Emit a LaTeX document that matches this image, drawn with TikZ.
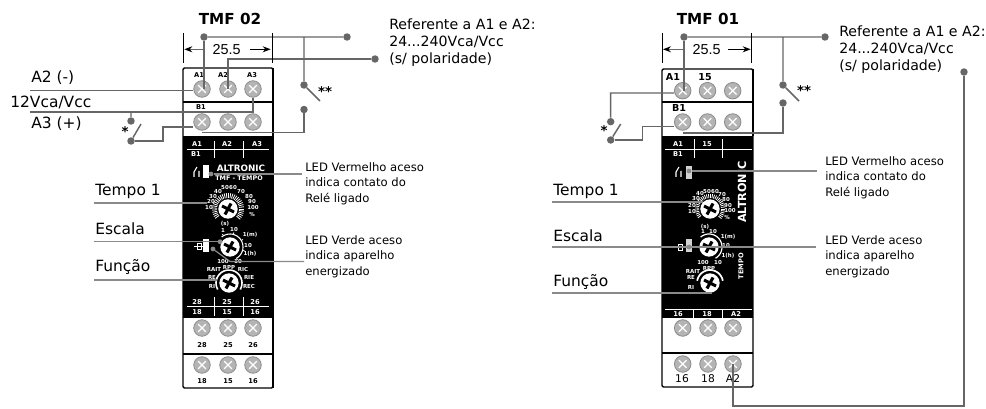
\documentclass[tikz,border=0pt]{standalone}
\usepackage{fontspec}
\setmainfont{DejaVu Sans}
\newfontfamily\arialfont{Liberation Sans}
\usetikzlibrary{arrows.meta}
\definecolor{wirec}{HTML}{666666}
\definecolor{leadc}{HTML}{8A8A8A}
\definecolor{screwc}{HTML}{B4B4B4}
\tikzset{
 wire/.style={draw=wirec,line width=1.1pt},
 leadline/.style={draw=leadc,line width=.9pt},
 wdot/.style={circle,fill=wirec,inner sep=0pt,minimum size=5.6pt},
 ldot/.style={circle,fill=leadc,inner sep=0pt,minimum size=3.6pt},
 screwn/.style={circle,fill=screwc,draw=leadc,line width=.6pt,inner sep=0pt,minimum size=12.4pt},
 dialn/.style={circle,fill=white,inner sep=0pt,minimum size=14.5pt},
 shell/.style={draw=black,line width=1.1pt,rounded corners=1pt},
 ticktxt/.style={text=white,font=\fontsize{5}{5}\selectfont\bfseries,inner sep=0pt},
 dialtxt/.style={text=white,font=\fontsize{4.1}{5}\selectfont\bfseries,inner sep=0pt},
 toptxt/.style={text=black,font=\fontsize{5}{5}\selectfont\bfseries,inner sep=0pt},
 bigtop/.style={text=black,font=\fontsize{7.2}{7.2}\selectfont\bfseries,inner sep=0pt},
 title/.style={font=\fontsize{11.4}{12}\selectfont\bfseries,inner sep=0pt},
 sidelabel/.style={anchor=west,inner sep=0pt,font=\fontsize{11.6}{14}\selectfont},
 reflabel/.style={anchor=west,align=left,inner sep=0pt,font=\fontsize{10.6}{12.6}\selectfont},
 ledlabel/.style={anchor=west,align=left,inner sep=0pt,font=\fontsize{8.7}{11.6}\selectfont},
 dimtxt/.style={inner sep=0pt,font=\arialfont\fontsize{10.8}{12}\selectfont},
 tick/.style={draw=black,line width=.7pt},
}
\newcommand{\screw}[3]{%
 \node[screwn] (#1) at (#2,#3) {};
 \draw[white,line width=.9pt] ([shift={(-3.8,-3.8)}]#1.center) -- ([shift={(3.8,3.8)}]#1.center)
   ([shift={(-3.8,3.8)}]#1.center) -- ([shift={(3.8,-3.8)}]#1.center);}
\newcommand{\knob}[3]{%
 \node[dialn] (#1) at (#2,#3) {};
 \draw[black,line width=2.3pt] ([shift={(-6,-3)}]#1.center) -- ([shift={(6,3)}]#1.center)
   ([shift={(-3,5.5)}]#1.center) -- ([shift={(3,-5.5)}]#1.center);}
\newcommand{\ticks}[6]{% cx cy r1 r2 from to (step 10)
 \foreach \a in {#5,...,#6}{
  \draw[white,line width=.6pt] ({#1+#3*cos(\a)},{#2-#3*sin(\a)}) -- ({#1+#4*cos(\a)},{#2-#4*sin(\a)});}}
\newcommand{\ringarc}[6]{% cx cy r from to width
 \draw[white,line width=#6,domain=#4:#5,samples=24] plot ({#1+#3*cos(\x)},{#2-#3*sin(\x)});}
\begin{document}
\begin{tikzpicture}[x=0.75pt,y=-0.75pt]
\useasboundingbox (0,0) rectangle (986,409);
%% ---------- device TMF 02 ----------
\fill[black] (183,136) rectangle (273,318);
\draw[shell] (183,68) rectangle (273,388);
\draw[black,line width=1.6pt] (273,68) -- (273,388);
\draw[black,line width=.8pt] (183,102) -- (273,102);
\draw[black,line width=1.1pt] (183,354) -- (273,354);
\node[toptxt] (ta1) at (199,75) {A1};
\node[toptxt] (ta2) at (223,75) {A2};
\node[toptxt] (ta3) at (252,75) {A3};
\node[toptxt] (tb1) at (201,107) {B1};
\screw{sa1}{202}{89}\screw{sa2}{228}{89}\screw{sa3}{253}{89}
\screw{sb1}{202}{122}\screw{sb2}{228}{122}\screw{sb3}{253}{122}
\screw{sc1}{202}{328}\screw{sc2}{228}{328}\screw{sc3}{253}{328}
\screw{sd1}{202}{365}\screw{sd2}{228}{365}\screw{sd3}{253}{365}
\foreach \t/\x/\y [count=\i] in {28/202/345,25/228/345,26/253/345,18/202/381,15/228/381,16/253/381}
 \node[toptxt] (bl\i) at (\x,\y) {\t};
% black panel
\draw[white,line width=.7pt] (187,149) -- (269,149) (214,141) -- (214,158) (243,141) -- (243,158)
  (187,306) -- (269,306) (214,297) -- (214,316) (243,297) -- (243,316);
\foreach \t/\x/\y [count=\i] in {A1/197/144,A2/227/144,A3/257/144,B1/196/154,28/197/302,25/227/302,26/255/302,18/197/312,15/227/312,16/255/312}
 \node[ticktxt] (hd\i) at (\x,\y) {\t};
\node[text=white,inner sep=0pt,font=\fontsize{6.6}{8}\selectfont\bfseries] (brand) at (241,168) {ALTRONIC};
\node[text=white,inner sep=0pt,font=\fontsize{4.8}{6}\selectfont\bfseries] (model) at (239,178) {TMF - TEMPO};
\fill[white] (203,165) rectangle (209,178);
\draw[white,line width=.8pt] (194,177) -- (194,172) -- (197,167) (199,171) -- (199,177);
\fill[white] (203,239) rectangle (209,252);
\draw[white,line width=.7pt] (197,243) rectangle (201,249) (194,246) -- (203,246);
\ticks{228}{209}{11}{16}{-40,-32}{216}
\knob{ka}{228}{209}
\ringarc{230}{247}{13}{-60}{130}{.8pt}
\ticks{230}{247}{13}{15}{-60,-15}{130}
\knob{kb}{230}{247}
\ringarc{229}{283}{13}{-30}{210}{1.2pt}
\knob{kc}{229}{283}
\foreach \t/\x/\y [count=\i] in {10/209/208,20/211/202,30/213/197,40/218/192,50/225/188,60/233/188,70/241/192,80/249/197,90/252/202,100/253/208,\%/252/215,(s)/225/224,
  1/223/231,10/234/230,1(m)/250/235,10/248/246,1(h)/250/254,100/223/262,10/238/262,
  RAIT/214/270,RPP/229/268,RIC/243/270,RE/212/278,RIE/249/278,RI/212/287,REC/249/287}
 \node[dialtxt] (da\i) at (\x,\y) {\t};
% wires
\node[wdot] (d1t) at (204,37) {};
\node[wdot] (d1r) at (347,37) {};
\node[wdot] (d1b) at (375,59) {};
\node[wdot] (d1sa) at (304,85) {};
\node[wdot] (d1sb) at (304,109.5) {};
\coordinate (d1j) at (304,37);
\coordinate (d1blade) at (320,101);
\coordinate (d1low) at (304,132.5);
\draw[wire] (d1t) -- (d1r) (d1j) -- (d1sa) (d1sa) -- (d1blade);
\draw[wire] (d1t) -- (d1t |- sa1);
\draw[wire] (sa2.center) |- (d1b);
\draw[wire] (d1sb) -- (d1low) -- (d1low -| sb1);
\coordinate (la2) at (30,90.7);
\coordinate (l12) at (30,112);
\draw[wire] (la2) -- (la2 -| sa1.west);
\draw[wire] (l12) -| (sa3.south);
\node[wdot] (d1p) at (131,121) {};
\node[wdot] (d1q) at (131,141) {};
\coordinate (d1pj) at (131,112);
\coordinate (d1pb) at (141,124);
\coordinate (d1qa) at (163,141);
\coordinate (d1qb) at (163,127);
\draw[wire] (d1pj) -- (d1p) (d1q) -- (d1pb);
\draw[wire] (d1q) -- (d1qa) -- (d1qb) -- (d1qb -| sb1.west);
% dimension
\coordinate (t1a) at (183,33); \coordinate (t1b) at (183,63);
\coordinate (t1c) at (272.3,33); \coordinate (t1d) at (272.3,63);
\draw[tick] (t1a) -- (t1b) (t1c) -- (t1d);
\coordinate (am1) at (204,49.3); \coordinate (am2) at (184.3,49.3);
\coordinate (am3) at (250,49.3); \coordinate (am4) at (270.7,49.3);
\draw[wirec,line width=.8pt,-{Stealth[black,length=6pt,width=4.5pt]}] (am1) -- (am2);
\draw[black,line width=.7pt,-{Stealth[black,length=6pt,width=4.5pt]}] (am3) -- (am4);
\node[dimtxt] (dim1) at (226.7,49.3) {25.5};
\node[title] (title1) at (230,19) {TMF 02};
\node[inner sep=0pt,font=\fontsize{10}{10}\selectfont\bfseries] (st1) at (125,132) {*};
\node[inner sep=0pt,font=\fontsize{10}{10}\selectfont\bfseries] (st2) at (325,92) {**};
\node[sidelabel] (a2m) at (31,78) {A2 (-)};
\node[sidelabel] (v12) at (10,102) {12Vca/Vcc};
\node[sidelabel] (a3p) at (31,124) {A3 (+)};
\node[reflabel] (ref1) at (389,42.5) {Referente a A1 e A2:\\24...240Vca/Vcc\\(s/ polaridade)};
\node[sidelabel] (tp1) at (95,191) {Tempo 1};
\node[sidelabel] (es1) at (95,229) {Escala};
\node[sidelabel] (fu1) at (95,267) {Função};
\coordinate (le1) at (94,203); \coordinate (le2) at (94,241.7); \coordinate (le3) at (94,280);
\draw[leadline] (le1) -- (207,203);
\draw[leadline] (le2) -- (220,241.7);
\draw[leadline] (le3) -- (217,280);
\node[ldot] (m1) at (220,241.7) {};
\node[ldot] (led1) at (211,174) {};
\node[ldot] (led2) at (213,249) {};
\node[ledlabel] (ll1) at (305,183.5) {LED Vermelho aceso\\indica contato do\\Relé ligado};
\node[ledlabel] (ll2) at (305,256.5) {LED Verde aceso\\indica aparelho\\energizado};
\coordinate (e1) at (302,174); \coordinate (e2a) at (230,261.5); \coordinate (e2) at (304,261.5);
\draw[leadline] (led1) -- (e1);
\draw[leadline] (led2) -- (e2a) -- (e2);
%% ---------- device TMF 01 ----------
\fill[black] (662,136) rectangle (753,318);
\draw[shell] (662,69) rectangle (753,387);
\draw[black,line width=1.4pt] (753,69) -- (753,136);
\draw[black,line width=.8pt] (662,102) -- (753,102);
\draw[black,line width=1.1pt] (662,353) -- (753,353);
\node[bigtop] (tta1) at (673,77) {A1};
\node[bigtop] (tt15) at (705,77) {15};
\node[bigtop] (ttb1) at (679,108) {B1};
\screw{ta}{682.7}{90.7}\screw{tb}{707.5}{90.7}\screw{tc}{732.7}{90.7}
\screw{ua}{682.7}{122}\screw{ub}{707.5}{122}\screw{uc}{732.7}{122}
\screw{va}{682.7}{328}\screw{vb}{708}{328}\screw{vc}{733}{328}
\screw{wa}{682.7}{364}\screw{wb}{708}{364}\screw{wc}{733}{364}
\foreach \t/\x/\y [count=\i] in {16/682/379,18/708/379,A2/733/379}
 \node[inner sep=0pt,font=\fontsize{8}{8}\selectfont] (bt\i) at (\x,\y) {\t};
\draw[white,line width=.7pt] (665,149) -- (752,149) (694,139) -- (694,158) (722,139) -- (722,158)
  (665,309) -- (752,309) (693,309) -- (693,318) (722,309) -- (722,318);
\foreach \t/\x/\y [count=\i] in {A1/678/144,15/707/144,B1/678/154,16/678/314,18/707/314,A2/736/314}
 \node[ticktxt] (he\i) at (\x,\y) {\t};
\node[text=white,rotate=90,inner sep=0pt,font=\fontsize{8.4}{10}\selectfont\bfseries] (brand2) at (742,192) {ALTRONIC};
\node[text=white,rotate=90,inner sep=0pt,font=\fontsize{5}{6}\selectfont\bfseries] (model2) at (741,266) {TEMPO};
\fill[gray!35] (686,166) rectangle (692,179);
\draw[white,line width=.8pt] (676,177) -- (676,172) -- (679,167) (681,171) -- (681,177);
\fill[gray!35] (686,239) rectangle (692,252);
\draw[white,line width=.7pt] (678,244) rectangle (682,250) (675,247) -- (685,247);
\ticks{710}{209}{11}{15}{-40,-32}{216}
\knob{la}{710}{209}
\ringarc{709}{247}{13}{-60}{130}{.9pt}
\knob{lb}{709}{247}
\ringarc{710}{283}{13}{10}{170}{1.3pt}
\knob{lc}{710}{283}
\foreach \t/\x/\y [count=\i] in {10/692/212,20/692/206,30/696/199,40/700/194,50/707/192,60/715/192,70/722/195,80/726/200,90/728/206,100/730/211,\%/727/218,(s)/705/227,
  1/703/232,10/713/232,1(m)/728/237,10/726/246,1(h)/728/256,100/703/263,10/718/263,
  RAIT/693/272,RPP/709/269,RE/691/278,RI/691/288}
 \node[dialtxt] (db\i) at (\x,\y) {\t};
% wires
\node[wdot] (d2t) at (684,37) {};
\node[wdot] (d2r) at (825,37) {};
\node[wdot] (d2sa) at (783,85) {};
\node[wdot] (d2sb) at (783,103) {};
\coordinate (d2j) at (783,37);
\coordinate (d2blade) at (799,101);
\coordinate (d2low) at (783,133);
\draw[wire] (d2t) -- (d2r) (d2j) -- (d2sa) (d2sa) -- (d2blade);
\draw[wire] (d2t) -- (d2t |- ta);
\draw[wire] (d2sb) -- (d2low) -- (d2low -| ua);
\node[wdot] (d2p) at (610.7,121.7) {};
\node[wdot] (d2q) at (610.7,140) {};
\coordinate (d2l) at (610.7,93);
\coordinate (d2pb) at (620.7,124);
\coordinate (d2qa) at (642.7,140);
\coordinate (d2qb) at (642.7,126.7);
\draw[wire] (d2l -| ta.west) -- (d2l) -- (d2p) (d2q) -- (d2pb);
\draw[wire] (d2q) -- (d2qa) -- (d2qb) -- (d2qb -| ua.west);
\node[wdot] (d2a2) at (964,72) {};
\coordinate (d2c) at (964,406);
\draw[wire] (d2a2) -- (d2c) -| (wc.center);
\coordinate (t2a) at (662,33); \coordinate (t2b) at (662,63);
\coordinate (t2c) at (751.7,33); \coordinate (t2d) at (751.7,63);
\draw[tick] (t2a) -- (t2b) (t2c) -- (t2d);
\coordinate (an1) at (684,49.3); \coordinate (an2) at (663,49.3);
\coordinate (an3) at (728,49.3); \coordinate (an4) at (750.7,49.3);
\draw[wirec,line width=.8pt,-{Stealth[black,length=6pt,width=4.5pt]}] (an1) -- (an2);
\draw[black,line width=.7pt,-{Stealth[black,length=6pt,width=4.5pt]}] (an3) -- (an4);
\node[dimtxt] (dim2) at (706.7,49.3) {25.5};
\node[title] (title2) at (708,19) {TMF 01};
\node[inner sep=0pt,font=\fontsize{10}{10}\selectfont\bfseries] (st3) at (604,131) {*};
\node[inner sep=0pt,font=\fontsize{10}{10}\selectfont\bfseries] (st4) at (804,91) {**};
\node[reflabel] (ref2) at (839,49.5) {Referente a A1 e A2:\\24...240Vca/Vcc\\(s/ polaridade)};
\node[sidelabel] (tp2) at (553,191) {Tempo 1};
\node[sidelabel] (es2) at (553,236) {Escala};
\node[sidelabel] (fu2) at (553,282) {Função};
\coordinate (lf1) at (552,202); \coordinate (lf2) at (552,247); \coordinate (lf3) at (552,293);
\draw[leadline] (lf1) -- (703,202);
\draw[leadline] (lf2) -- (816,247);
\draw[leadline] (lf3) -- (712,293);
\node[ldot] (led3) at (689,171) {};
\node[ldot] (led4) at (689,247) {};
\coordinate (g1) at (817,171);
\draw[leadline] (led3) -- (g1);
\node[ledlabel] (ll3) at (825,177.5) {LED Vermelho aceso\\indica contato do\\Relé ligado};
\node[ledlabel] (ll4) at (825,256.5) {LED Verde aceso\\indica aparelho\\energizado};
\end{tikzpicture}
\end{document}
